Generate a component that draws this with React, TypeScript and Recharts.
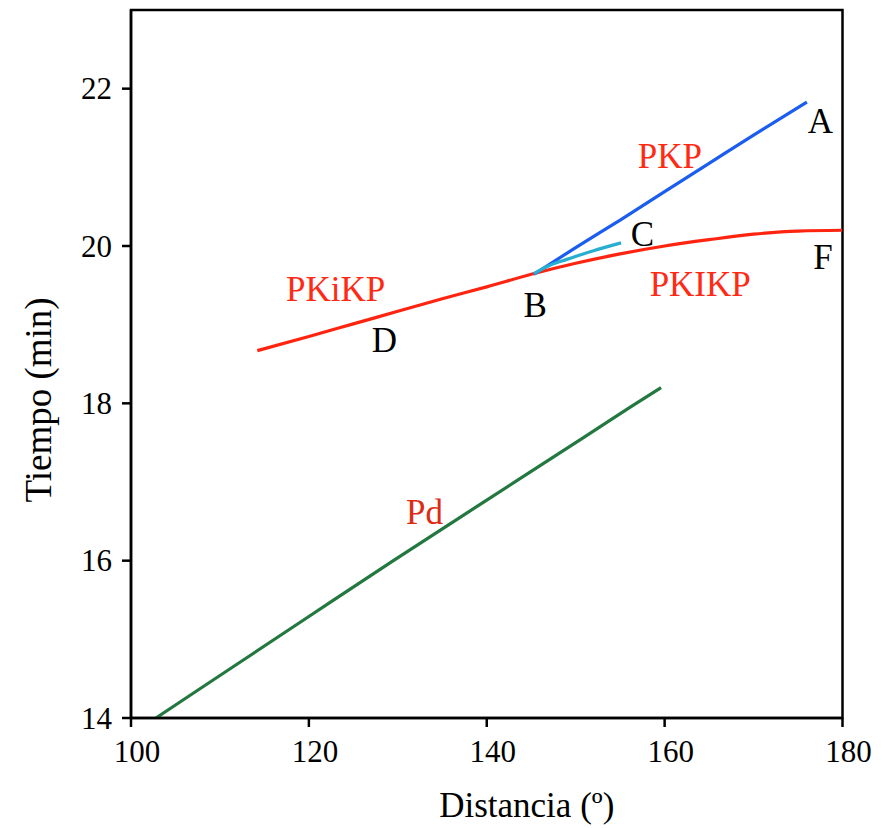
import React from 'react'
import { LineChart, Line, XAxis, YAxis, ReferenceArea, ReferenceDot } from 'recharts'

// travel-time curves, distance in degrees, time in minutes
const pdDist = [102.8, 110, 120, 129.5, 140, 150, 156.8, 159.6]
const pdTime = [14.0, 14.54, 15.29, 16.0, 16.77, 17.5, 18.0, 18.2]

const pkpDist = [145.3, 150, 155, 160, 165, 170, 176]
const pkpTime = [19.64, 19.98, 20.33, 20.69, 21.05, 21.41, 21.83]

const bcDist = [145.3, 147, 149, 152, 155.1]
const bcTime = [19.65, 19.75, 19.83, 19.94, 20.04]

const pkikpDist = [114.2, 120, 125, 130, 135, 140, 145, 150, 155, 160, 165, 170, 175, 180]
const pkikpTime = [18.67, 18.85, 19.01, 19.17, 19.33, 19.48, 19.64, 19.78, 19.9, 20.0, 20.08, 20.15, 20.19, 20.2]

const xTicks = [100, 120, 140, 160, 180]
const yTicks = [14, 16, 18, 20, 22]

// curve labels
const labelText = ['A', 'PKP', 'C', 'F', 'PKIKP', 'B', 'PKiKP', 'D', 'Pd']
const labelDist = [177.5, 160.6, 157.5, 177.8, 164.0, 145.45, 123.0, 128.5, 133.0]
const labelTime = [21.59, 21.15, 20.16, 19.87, 19.52, 19.26, 19.46, 18.81, 16.62]
const labelColor = ['#000', '#ff2a14', '#000', '#000', '#ff2a14', '#000', '#ff2a14', '#000', '#dc2c16']

const toPoints = (xs: number[], ys: number[]) => xs.map((d, i) => ({ d, t: ys[i] }))

const serif = '"Liberation Serif", "Times New Roman", serif'

const XTick = ({ x, y, payload }: any) => (
  <text x={x + 6} y={y + 21} textAnchor="middle" fontSize={31} fontFamily={serif} fill="#000">
    {payload.value}
  </text>
)

const YTick = ({ x, y, payload }: any) => (
  <text x={x} y={y + 10.5} textAnchor="end" fontSize={31} fontFamily={serif} fill="#000">
    {payload.value}
  </text>
)

export default function App() {
  return (
    <div style={{ position: 'absolute', left: 0, top: 0, background: '#fff' }}>
      <LineChart width={892} height={828} margin={{ top: 10, right: 49.5, bottom: 30, left: 51 }}>
        <XAxis
          type="number"
          dataKey="d"
          domain={[100, 180]}
          ticks={xTicks}
          allowDataOverflow
          height={80}
          stroke="#000"
          strokeWidth={2.5}
          tickSize={9}
          tickMargin={14}
          tick={<XTick />}
          label={{
            content: ({ viewBox }: any) => (
              <text
                x={viewBox.x + viewBox.width / 2 + 40}
                y={viewBox.y + 99}
                textAnchor="middle"
                fontSize={35}
                fontFamily={serif}
                fill="#000"
              >
                Distancia (º)
              </text>
            ),
          }}
        />
        <YAxis
          type="number"
          dataKey="t"
          domain={[14, 23]}
          ticks={yTicks}
          allowDataOverflow
          width={80}
          stroke="#000"
          strokeWidth={2.5}
          tickSize={9}
          tickMargin={10}
          tick={<YTick />}
          label={{
            content: ({ viewBox }: any) => {
              const cx = viewBox.x
              const cy = viewBox.y + viewBox.height / 2 + 36
              return (
                <text
                  x={cx}
                  y={cy}
                  transform={`rotate(-90, ${cx}, ${cy})`}
                  textAnchor="middle"
                  fontSize={37}
                  fontFamily={serif}
                  fill="#000"
                >
                  Tiempo (min)
                </text>
              )
            },
          }}
        />
        <ReferenceArea x1={100} x2={180} y1={14} y2={23} fill="none" stroke="#000" strokeWidth={2.5} />

        <Line data={toPoints(pkikpDist, pkikpTime)} dataKey="t" type="monotone" stroke="#ff2410" strokeWidth={3.2} dot={false} isAnimationActive={false} />
        <Line data={toPoints(pdDist, pdTime)} dataKey="t" type="monotone" stroke="#237840" strokeWidth={3.2} dot={false} isAnimationActive={false} />
        <Line data={toPoints(pkpDist, pkpTime)} dataKey="t" type="monotone" stroke="#1a5df0" strokeWidth={3.2} dot={false} isAnimationActive={false} />
        <Line data={toPoints(bcDist, bcTime)} dataKey="t" type="monotone" stroke="#27aed0" strokeWidth={3.2} dot={false} isAnimationActive={false} />

        {labelText.map((txt, i) => (
          <ReferenceDot
            key={txt + i}
            x={labelDist[i]}
            y={labelTime[i]}
            r={0}
            fill="none"
            stroke="none"
            label={{ value: txt, position: 'center', fill: labelColor[i], fontSize: 35, fontFamily: serif }}
          />
        ))}
      </LineChart>
    </div>
  )
}
